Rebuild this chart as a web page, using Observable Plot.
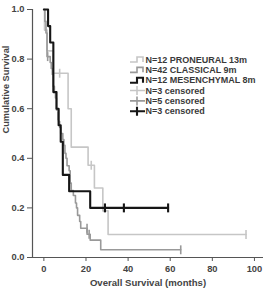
<!DOCTYPE html>
<html>
<head>
<meta charset="utf-8">
<script src="https://cdn.jsdelivr.net/npm/d3@7"></script>
<script src="https://cdn.jsdelivr.net/npm/@observablehq/plot@0.6"></script>
<style>
  html, body { margin: 0; padding: 0; background: #fff; }
  svg { display: block; }
</style>
</head>
<body>
<script>
// Kaplan-Meier step data (months, cumulative survival)
const proneuralT = [0, 0.3, 1.5, 4.5, 11.5, 13, 21, 24, 28, 30.5, 96];
const proneuralS = [1, 0.917, 0.833, 0.743, 0.6, 0.445, 0.372, 0.28, 0.188, 0.093, 0.093];
const proneuralCensT = [7.5, 22.5, 96];
const proneuralCensS = [0.743, 0.372, 0.093];

const classicalT = [0, 0.5, 1, 1.5, 3, 3.5, 4, 4.5, 5, 5.5, 6, 7, 7.5, 8, 9, 9.5, 10, 10.5, 11, 12, 12.5, 13, 14, 15, 15.5, 16, 17, 17.5, 20.5, 22, 27, 65];
const classicalS = [1, 0.952, 0.905, 0.81, 0.786, 0.762, 0.738, 0.69, 0.667, 0.643, 0.595, 0.548, 0.524, 0.5, 0.476, 0.452, 0.42, 0.4, 0.37, 0.35, 0.3, 0.27, 0.25, 0.22, 0.2, 0.17, 0.145, 0.118, 0.094, 0.07, 0.031, 0.031];
const classicalCensT = [1.8, 6.8, 20.5, 21.5, 65];
const classicalCensS = [0.81, 0.571, 0.118, 0.094, 0.031];

const mesenchymalT = [0, 2, 3, 4.5, 6, 7, 8, 9, 12, 22, 59];
const mesenchymalS = [1, 0.933, 0.867, 0.667, 0.6, 0.533, 0.467, 0.333, 0.267, 0.2, 0.2];
const mesenchymalCensT = [29, 38, 59];
const mesenchymalCensS = [0.2, 0.2, 0.2];

const xTicks = [0, 20, 40, 60, 80, 100];
const yTicks = [0, 0.2, 0.4, 0.6, 0.8, 1.0];
const legendLabels = ["N=12 PRONEURAL 13m", "N=42 CLASSICAL 9m", "N=12 MESENCHYMAL 8m", "N=3 censored", "N=5 censored", "N=3 censored"];

const colors = { pro: "#c6c6c6", cla: "#999999", mes: "#161616" };
const widths = { pro: 1.6, cla: 1.6, mes: 2.1 };

const toRows = (T, S) => T.map((t, i) => ({ t, s: S[i] }));
const pro = toRows(proneuralT, proneuralS), proC = toRows(proneuralCensT, proneuralCensS);
const cla = toRows(classicalT, classicalS), claC = toRows(classicalCensT, classicalCensS);
const mes = toRows(mesenchymalT, mesenchymalS), mesC = toRows(mesenchymalCensT, mesenchymalCensS);

const FONT = "'Liberation Sans', Arial, sans-serif";
const cens = (data, key) => Plot.link(data, {
  x1: "t", x2: "t", y1: d => d.s - 0.018, y2: d => d.s + 0.018,
  stroke: colors[key], strokeWidth: widths[key]
});
const curve = (data, key) => Plot.line(data, {
  x: "t", y: "s", curve: "step-after", stroke: colors[key], strokeWidth: widths[key]
});

const svg = Plot.plot({
  width: 265, height: 292,
  marginLeft: 32, marginRight: 2, marginTop: 9, marginBottom: 35,
  style: { fontFamily: FONT, fontSize: "9.3px", fontWeight: "bold", color: "#444", background: "#fff" },
  x: { domain: [-5.4, 104.3] },
  y: { domain: [0, 1] },
  marks: [
    Plot.ruleY([0], { stroke: "#555", strokeWidth: 1.2 }),
    Plot.ruleX([-5.4], { stroke: "#555", strokeWidth: 1.2 }),
    Plot.axisX({ ticks: xTicks, tickSize: 4, tickPadding: 4, label: null, stroke: "#555", fill: "#444" }),
    Plot.axisY({ ticks: yTicks, tickFormat: d3.format(".1f"), tickSize: 5, tickPadding: 3, label: null, stroke: "#555", fill: "#444" }),
    curve(pro, "pro"), cens(proC, "pro"),
    curve(cla, "cla"), cens(claC, "cla"),
    curve(mes, "mes"), cens(mesC, "mes"),
    Plot.text(["Overall Survival (months)"], { frameAnchor: "bottom", dy: 28, fill: "#444", fontSize: 9.6 }),
    Plot.text(["Cumulative Survival"], { frameAnchor: "left", dx: -26.5, rotate: -90, fill: "#444", fontSize: 9.2 })
  ]
});
document.body.appendChild(svg);

// Legend (inside plot area, upper right)
const lg = d3.select(svg).append("g").attr("transform", "translate(130,59.5)")
  .attr("font-family", FONT).attr("font-size", "9px").attr("font-weight", "bold")
  .attr("text-anchor", "start");
const keys = ["pro", "cla", "mes", "pro", "cla", "mes"];
legendLabels.forEach((lab, i) => {
  const g = lg.append("g").attr("transform", `translate(0,${i * 10.35})`);
  const k = keys[i];
  if (i < 3) {
    g.append("path").attr("d", "M0,2.5H7V-2.5H13V2.5")
      .attr("fill", "none").attr("stroke", colors[k]).attr("stroke-width", widths[k]);
  } else {
    g.append("path").attr("d", "M0,0H15M7,-4.5V4.5")
      .attr("fill", "none").attr("stroke", colors[k]).attr("stroke-width", widths[k]);
  }
  g.append("text").attr("x", 15.5).attr("y", 0).attr("dy", "0.35em")
    .attr("text-anchor", "start").attr("fill", "#3a3a3a").text(lab);
});
</script>
</body>
</html>
